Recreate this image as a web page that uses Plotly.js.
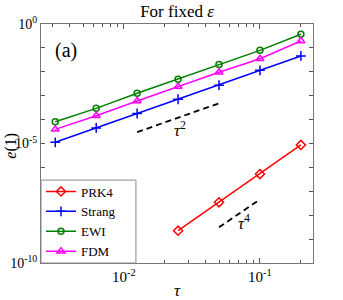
<!DOCTYPE html>
<html><head><meta charset="utf-8">
<script src="https://cdn.plot.ly/plotly-3.0.1.min.js"></script>
<style>html,body{margin:0;padding:0;background:#fff}#chart{width:343px;height:300px}</style>
</head><body><div id="chart"></div>
<script>
const tauFull = [0.003125, 0.00625, 0.0125, 0.025, 0.05, 0.1, 0.2];
const tauPRK4 = [0.025, 0.05, 0.1, 0.2];
const errPRK4 = [2.24e-9, 3.47e-8, 5.25e-7, 8.7e-6];
const errStrang = [1.12e-5, 4.5e-5, 1.8e-4, 7.1e-4, 2.75e-3, 1.15e-2, 4.6e-2];
const errEWI = [8.1e-5, 2.95e-4, 1.26e-3, 4.9e-3, 2.0e-2, 7.9e-2, 0.37];
const errFDM = [3.9e-5, 1.45e-4, 6.0e-4, 2.4e-3, 9.5e-3, 3.5e-2, 0.195];
const refTau2 = [0.0125, 0.05];
const refErr2 = [3.0e-5, 4.8e-4];
const refTau4 = [0.05, 0.1];
const refErr4 = [3.1e-9, 4.6e-8];
const yTickVals = [1e-10,1e-9,1e-8,1e-7,1e-6,1e-5,1e-4,1e-3,1e-2,1e-1,1];
const yTickText = ['10<sup>-10</sup>','','','','','10<sup>-5</sup>','','','','','10<sup>0</sup>'];
const xTickVals = [0.01, 0.1];
const xTickText = ['10<sup>-2</sup>','10<sup>-1</sup>'];

const serif = 'Liberation Serif, Times New Roman, serif';
const traces = [
  {x: tauPRK4, y: errPRK4, name: 'PRK4', mode: 'lines+markers',
   line: {color: '#ff0000', width: 1.5}, marker: {symbol: 'diamond-open', size: 7, color: '#ff0000', line: {width: 1.5}}},
  {x: tauFull, y: errStrang, name: 'Strang', mode: 'lines+markers',
   line: {color: '#0000ff', width: 1.5}, marker: {symbol: 'cross-thin-open', size: 7, color: '#0000ff', line: {width: 1.5, color: '#0000ff'}}},
  {x: tauFull, y: errEWI, name: 'EWI', mode: 'lines+markers',
   line: {color: '#008000', width: 1.5}, marker: {symbol: 'circle-open', size: 6, color: '#008000', line: {width: 1.5}}},
  {x: tauFull, y: errFDM, name: 'FDM', mode: 'lines+markers',
   line: {color: '#ff00ff', width: 1.5}, marker: {symbol: 'triangle-up-open', size: 7, color: '#ff00ff', line: {width: 1.5}}},
  {x: refTau2, y: refErr2, mode: 'lines', showlegend: false, hoverinfo: 'skip',
   line: {color: '#000', width: 1.8, dash: '6px,4px'}},
  {x: refTau4, y: refErr4, mode: 'lines', showlegend: false, hoverinfo: 'skip',
   line: {color: '#000', width: 1.8, dash: '6px,4px'}}
];

const layout = {
  width: 343, height: 300,
  margin: {l: 41, r: 30, t: 24, b: 37},
  paper_bgcolor: '#fff', plot_bgcolor: '#fff',
  font: {family: serif, size: 14, color: '#000'},
  showlegend: true,
  title: {text: 'For fixed <i>ε</i>', font: {family: serif, size: 17, color: '#000'},
          x: 0.5, xref: 'paper', xanchor: 'center', y: 0.963, yref: 'container', yanchor: 'middle'},
  xaxis: {type: 'log', range: [-2.61, -0.61], tickmode: 'array', tickvals: xTickVals, ticktext: xTickText,
          ticks: 'inside', ticklen: 5, tickcolor: '#555', showline: true, linecolor: '#777', linewidth: 1,
          mirror: 'ticks', showgrid: false, zeroline: false,
          minor: {ticks: 'inside', ticklen: 3, tickcolor: '#555', dtick: 'D1', showgrid: false},
          tickfont: {family: serif, size: 15},
          title: {text: '<i>τ</i>', font: {family: serif, size: 17}, standoff: 0}},
  yaxis: {type: 'log', range: [-10, 0], tickmode: 'array', tickvals: yTickVals, ticktext: yTickText,
          ticks: 'inside', ticklen: 4, tickcolor: '#555', showline: true, linecolor: '#777', linewidth: 1,
          mirror: 'ticks', showgrid: false, zeroline: false,
          tickfont: {family: serif, size: 14}},
  shapes: [
    {type: 'rect', xref: 'paper', yref: 'paper', x0: 0, x1: 0.349, y0: 0, y1: 0.347,
     fillcolor: '#fff', line: {color: '#888', width: 1}, layer: 'above'}
  ],
  legend: {x: 0, y: 0.362, xanchor: 'left', yanchor: 'top', bgcolor: 'rgba(0,0,0,0)',
           borderwidth: 0, font: {family: serif, size: 13}, itemwidth: 30,
           tracegroupgap: 0},
  annotations: [
    {text: '<i>e</i>(1)', x: -0.111, y: 0.49, xref: 'paper', yref: 'paper', xanchor: 'center', yanchor: 'middle',
     textangle: -90, showarrow: false, font: {family: serif, size: 16, color: '#000'}},
    {text: '(a)', x: 0.092, y: 0.89, xref: 'paper', yref: 'paper', xanchor: 'center', yanchor: 'middle',
     showarrow: false, font: {family: serif, size: 20, color: '#000'}},
    {text: '<i>τ</i><sup>2</sup>', x: Math.log10(0.026), y: -4.39, xref: 'x', yref: 'y',
     xanchor: 'center', yanchor: 'middle', showarrow: false, font: {family: serif, size: 17, color: '#000'}},
    {text: '<i>τ</i><sup>4</sup>', x: Math.log10(0.076), y: -8.28, xref: 'x', yref: 'y',
     xanchor: 'center', yanchor: 'middle', showarrow: false, font: {family: serif, size: 17, color: '#000'}}
  ]
};
Plotly.newPlot('chart', traces, layout, {displayModeBar: false, staticPlot: true});
</script></body></html>
